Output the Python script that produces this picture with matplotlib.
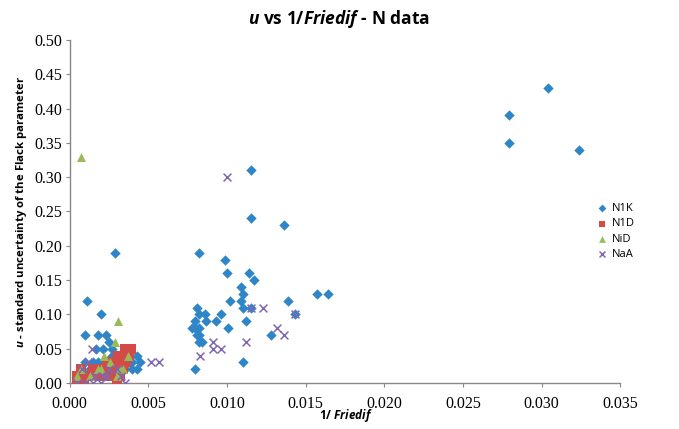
import matplotlib
matplotlib.use("Agg")
import matplotlib.pyplot as plt

plt.rcParams['mathtext.fontset'] = 'custom'
plt.rcParams['mathtext.it'] = 'Open Sans:italic:bold'
plt.rcParams['mathtext.rm'] = 'Open Sans:bold'
plt.rcParams['mathtext.bf'] = 'Open Sans:bold'

# ---- data ----
n1k_x = [0.0279, 0.0279, 0.0304, 0.0324,
         0.0115, 0.0115, 0.0136, 0.0082, 0.0099, 0.0100, 0.0114, 0.0117, 0.0109, 0.0110,
         0.0102, 0.0109, 0.0110, 0.0115, 0.0139, 0.0157, 0.0164, 0.0143, 0.0093, 0.0087,
         0.0086, 0.0096, 0.0081, 0.0082, 0.0080, 0.0078, 0.0080, 0.00825, 0.0081, 0.0082,
         0.0082, 0.0084, 0.0101, 0.0112, 0.0128, 0.0110, 0.0080,
         0.0029, 0.0011, 0.0020, 0.0010, 0.0018, 0.0023, 0.0017, 0.0021, 0.0027, 0.0027,
         0.0029, 0.0043, 0.0010, 0.0015, 0.0018, 0.0022, 0.0040, 0.0045, 0.0007, 0.0013,
         0.0040, 0.0043, 0.0025, 0.0033, 0.0035, 0.0012, 0.0019, 0.0008, 0.0037]
n1k_y = [0.39, 0.35, 0.43, 0.34,
         0.31, 0.24, 0.23, 0.19, 0.18, 0.16, 0.16, 0.15, 0.14, 0.13,
         0.12, 0.12, 0.11, 0.11, 0.12, 0.13, 0.13, 0.10, 0.09, 0.09,
         0.10, 0.10, 0.11, 0.10, 0.09, 0.08, 0.08, 0.08, 0.07, 0.07,
         0.06, 0.06, 0.08, 0.09, 0.07, 0.03, 0.02,
         0.19, 0.12, 0.10, 0.07, 0.07, 0.07, 0.05, 0.05, 0.05, 0.04,
         0.04, 0.04, 0.03, 0.03, 0.03, 0.03, 0.03, 0.03, 0.02, 0.02,
         0.02, 0.02, 0.06, 0.03, 0.02, 0.01, 0.02, 0.01, 0.03]

n1d_x = [0.0035, 0.0039, 0.0032, 0.0028, 0.0033, 0.0038, 0.0005, 0.0007, 0.0012, 0.0020,
         0.0025, 0.0030, 0.0034, 0.0036, 0.0005, 0.0015, 0.0027, 0.0032, 0.0022, 0.0030,
         0.0009, 0.0018, 0.0024, 0.0031]
n1d_y = [0.05, 0.05, 0.04, 0.03, 0.03, 0.04, 0.01, 0.02, 0.01, 0.02,
         0.02, 0.02, 0.02, 0.03, 0.00, 0.02, 0.01, 0.01, 0.01, 0.00,
         0.005, 0.01, 0.03, 0.04]

nid_x = [0.0007, 0.0031, 0.0029, 0.0022, 0.0037, 0.0026, 0.0007, 0.0020, 0.0034, 0.0013,
         0.0030, 0.0032, 0.0005, 0.0018]
nid_y = [0.33, 0.09, 0.06, 0.04, 0.04, 0.03, 0.02, 0.02, 0.02, 0.01,
         0.01, 0.02, 0.01, 0.02]

naa_x = [0.0100, 0.0115, 0.0123, 0.0143, 0.0091, 0.0091, 0.0096, 0.0083, 0.0112, 0.0132,
         0.0136, 0.0052, 0.0057, 0.0014, 0.0005, 0.0010, 0.0016, 0.0021, 0.0024, 0.0030,
         0.0033, 0.0008, 0.0012, 0.0020, 0.0035, 0.0025, 0.0015]
naa_y = [0.30, 0.11, 0.11, 0.10, 0.06, 0.05, 0.05, 0.04, 0.06, 0.08,
         0.07, 0.03, 0.03, 0.05, 0.00, 0.00, 0.01, 0.01, 0.01, 0.02,
         0.01, 0.02, 0.03, 0.00, 0.00, 0.02, 0.00]

series_labels = ["N1K", "N1D", "NiD", "NaA"]
x_ticks = [0.000, 0.005, 0.010, 0.015, 0.020, 0.025, 0.030, 0.035]
y_ticks = [0.00, 0.05, 0.10, 0.15, 0.20, 0.25, 0.30, 0.35, 0.40, 0.45, 0.50]

# ---- figure ----
fig = plt.figure(figsize=(6.79, 4.29), dpi=100)
ax = fig.add_axes([0.1024, 0.1072, 0.8113, 0.7996])

ax.scatter(n1k_x, n1k_y, marker='D', s=28, color='#2E86C8', label=series_labels[0], zorder=3, linewidths=0)
ax.scatter(n1d_x, n1d_y, marker='s', s=42, color='#D24B47', label=series_labels[1], zorder=3, linewidths=0)
ax.scatter(nid_x, nid_y, marker='^', s=42, color='#9BBB59', label=series_labels[2], zorder=3, linewidths=0)
ax.scatter(naa_x, naa_y, marker='x', s=32, color='#7F68B0', label=series_labels[3], zorder=3, linewidths=1.1)

ax.set_xlim(0, 0.035)
ax.set_ylim(0, 0.5)
ax.set_xticks(x_ticks)
ax.set_yticks(y_ticks)
ax.set_xticklabels([f"{t:.3f}" for t in x_ticks], family='Liberation Serif', fontsize=11.5)
ax.set_yticklabels([f"{t:.2f}" for t in y_ticks], family='Liberation Serif', fontsize=11.5)
ax.tick_params(axis='both', direction='out', length=3, color='#888888', width=0.8)
ax.tick_params(axis='x', pad=6)
ax.tick_params(axis='y', pad=2)
for s in ['top', 'right']:
    ax.spines[s].set_visible(False)
for s in ['left', 'bottom']:
    ax.spines[s].set_color('#888888')
    ax.spines[s].set_linewidth(1.0)

fig.text(0.5, 0.955, r"$u$ vs 1/$Friedif$ - N data", ha='center', va='center',
         fontsize=12.5, fontweight='bold', family='Open Sans')
fig.text(0.51, 0.032, r"1/ $Friedif$", ha='center', va='center',
         fontsize=8.5, fontweight='bold', family='Open Sans')
fig.text(0.031, 0.505, r"$u$ - standard uncertainty of the Flack parameter", ha='center', va='center',
         rotation=90, fontsize=8.2, fontweight='bold', family='Open Sans')

leg = fig.legend(loc='upper left', bbox_to_anchor=(0.86, 0.55), frameon=False,
                 handletextpad=0.1, labelspacing=0.4, handlelength=1.5, markerscale=0.75,
                 prop={'family': 'Open Sans', 'size': 8})

fig.savefig("out.png", dpi=100)
